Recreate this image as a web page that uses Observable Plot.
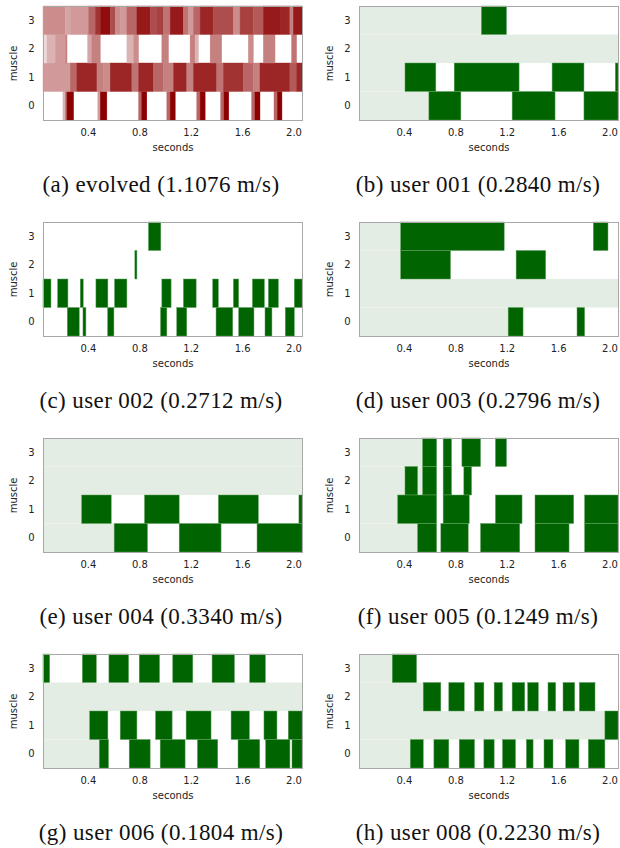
<!DOCTYPE html>
<html><head><meta charset="utf-8">
<script src="https://cdn.jsdelivr.net/npm/d3@7"></script>
<script src="https://cdn.jsdelivr.net/npm/@observablehq/plot@0.6"></script>
<style>
body{margin:0;background:#fff;}
#page{position:relative;width:620px;height:848px;overflow:hidden;background:#fff;}
.cell{position:absolute;width:310px;height:216px;}
.cell svg{position:absolute;left:0;top:0;}
.cap{position:absolute;width:310px;top:173px;text-align:center;font-family:"Liberation Serif",serif;font-size:23px;line-height:23px;letter-spacing:0.4px;color:#111;white-space:nowrap;}
</style></head><body><div id="page"></div>
<script>
// ---- axes ----
const xTicks = [0.4, 0.8, 1.2, 1.6, 2.0];
const muscles = [0, 1, 2, 3];
const tStart = 0.05, tEnd = 2.066;

// ---- (a) evolved: [start s, end s, activation 0..1] per muscle ----
const evolvedRow3 = [[0.050,0.224,0.45],[0.224,0.268,0.35],[0.268,0.405,0.40],[0.405,0.457,0.6],[0.457,0.496,0.8],[0.496,0.573,0.95],[0.573,0.612,0.7],[0.612,0.651,0.45],[0.651,0.703,0.4],[0.703,0.781,0.6],[0.781,0.884,0.9],[0.884,0.936,0.7],[0.936,0.988,0.75],[0.988,1.040,0.55],[1.040,1.143,0.9],[1.143,1.182,0.55],[1.182,1.221,0.4],[1.221,1.273,0.6],[1.273,1.376,0.85],[1.376,1.532,0.7],[1.532,1.584,0.45],[1.584,1.687,0.75],[1.687,1.765,0.65],[1.765,1.895,0.9],[1.895,1.972,0.85],[1.972,1.998,0.5],[1.998,2.066,0.9]];
const evolvedRow2 = [[0.050,0.081,0.15],[0.081,0.146,0.3],[0.146,0.224,0.4],[0.224,0.237,0.5],[0.397,0.430,0.35],[0.430,0.496,0.5],[0.703,0.755,0.3],[0.755,0.794,0.45],[0.975,1.027,0.5],[1.195,1.234,0.5],[1.234,1.260,0.3],[1.351,1.441,0.5],[1.648,1.687,0.45],[1.765,1.856,0.5],[1.985,2.024,0.55]];
const evolvedRow1 = [[0.050,0.262,0.4],[0.262,0.314,0.6],[0.314,0.470,0.85],[0.470,0.522,0.5],[0.522,0.573,0.45],[0.573,0.742,0.85],[0.742,0.794,0.55],[0.794,0.910,0.85],[0.910,0.988,0.6],[0.988,1.066,0.5],[1.066,1.169,0.85],[1.169,1.221,0.5],[1.221,1.402,0.85],[1.402,1.454,0.55],[1.454,1.610,0.8],[1.610,1.687,0.6],[1.687,1.739,0.5],[1.739,1.972,0.85],[1.972,2.024,0.65],[2.024,2.066,0.85]];
const evolvedRow0 = [[0.205,0.224,0.3],[0.224,0.237,0.6],[0.237,0.288,1.0],[0.477,0.496,0.4],[0.496,0.547,1.0],[0.794,0.819,0.6],[0.819,0.858,1.0],[1.014,1.040,0.6],[1.040,1.079,1.0],[1.247,1.273,0.6],[1.273,1.312,1.0],[1.433,1.459,0.6],[1.459,1.496,1.0],[1.674,1.700,0.6],[1.700,1.739,1.0],[1.848,1.874,0.6],[1.874,1.910,1.0]];

// ---- user panels: [muscle, start s, end s] ----
const bars001 = [[3,1.003,1.198],[1,0.408,0.648],[1,0.791,1.296],[1,1.553,1.801],[1,2.045,2.066],[0,0.594,0.843],[0,1.242,1.576],[0,1.801,2.066]];
const idle001 = [[3,0.05,1.003],[2,0.05,2.066],[1,0.05,0.408],[0,0.05,0.594]];

const bars002 = [[3,0.871,0.967],[2,0.765,0.781],[1,0.05,0.112],[1,0.164,0.244],[1,0.340,0.363],[1,0.462,0.555],[1,0.607,0.703],[1,0.975,1.047],[1,1.143,1.242],[1,1.371,1.415],[1,1.532,1.573],[1,1.680,1.773],[1,1.804,1.882],[1,2.006,2.066],[0,0.239,0.332],[0,0.361,0.384],[0,0.553,0.602],[0,0.965,1.014],[0,1.091,1.169],[0,1.397,1.527],[0,1.573,1.692],[0,1.778,1.832],[0,1.936,2.006]];
const idle002 = [];

const bars003 = [[3,0.374,1.180],[3,1.874,1.988],[2,0.374,0.762],[2,1.273,1.503],[0,1.211,1.327],[0,1.747,1.806]];
const idle003 = [[3,0.05,0.374],[2,0.05,0.374],[1,0.05,2.066],[0,0.05,1.211]];

const bars004 = [[1,0.351,0.581],[1,0.840,1.110],[1,1.415,1.726],[1,2.042,2.066],[0,0.604,0.863],[0,1.110,1.436],[0,1.716,2.066]];
const idle004 = [[3,0.05,2.066],[2,0.05,2.066],[1,0.05,0.351],[0,0.05,0.604]];

const bars005 = [[3,0.545,0.654],[3,0.705,0.770],[3,0.851,0.996],[3,1.112,1.198],[2,0.408,0.506],[2,0.545,0.654],[2,0.705,0.770],[2,0.866,0.926],[1,0.351,0.654],[1,0.705,0.908],[1,1.112,1.319],[1,1.420,1.721],[1,1.806,2.066],[0,0.506,0.654],[0,0.687,0.900],[0,0.996,1.301],[0,1.420,1.685],[0,1.806,2.066]];
const idle005 = [[3,0.05,0.545],[2,0.05,0.545],[1,0.05,0.351],[0,0.05,0.506]];

const bars006 = [[3,0.05,0.102],[3,0.356,0.465],[3,0.563,0.716],[3,0.799,0.957],[3,1.060,1.216],[3,1.366,1.540],[3,1.659,1.781],[1,0.413,0.555],[1,0.651,0.781],[1,0.926,1.055],[1,1.164,1.358],[1,1.514,1.656],[1,1.770,1.871],[1,1.959,2.066],[0,0.488,0.560],[0,0.721,0.884],[0,0.962,1.156],[0,1.252,1.410],[0,1.568,1.737],[0,1.783,1.972],[0,1.988,2.066]];
const idle006 = [[2,0.05,2.066],[1,0.05,0.413],[0,0.05,0.488]];

const bars008 = [[3,0.309,0.498],[2,0.550,0.687],[2,0.749,0.869],[2,0.949,1.022],[2,1.102,1.167],[2,1.242,1.340],[2,1.363,1.446],[2,1.521,1.581],[2,1.638,1.729],[2,1.765,1.887],[1,1.964,2.066],[0,0.449,0.550],[0,0.633,0.749],[0,0.830,0.949],[0,1.022,1.102],[0,1.167,1.268],[0,1.353,1.405],[0,1.490,1.560],[0,1.659,1.762],[0,1.835,1.964]];
const idle008 = [[3,0.05,0.309],[2,0.05,0.550],[1,0.05,1.964],[0,0.05,0.449]];

const captions = ["(a) evolved (1.1076 m/s)","(b) user 001 (0.2840 m/s)","(c) user 002 (0.2712 m/s)","(d) user 003 (0.2796 m/s)","(e) user 004 (0.3340 m/s)","(f) user 005 (0.1249 m/s)","(g) user 006 (0.1804 m/s)","(h) user 008 (0.2230 m/s)"];

// ---- styling ----
const darkGreen = "#006400", idleGreen = "#e3ede3", edgeGreen = "#5f9f5f";

function basePlot(col, marks, extra = {}) {
  return Plot.plot({
    width: 310, height: 154,
    marginLeft: col === 0 ? 43 : 49, marginRight: col === 0 ? 8 : 2,
    marginTop: 6, marginBottom: 34,
    style: {fontFamily: "'DejaVu Sans', sans-serif", fontSize: "10px", color: "#222", background: "transparent"},
    x: {domain: [tStart, tEnd], ticks: xTicks, tickFormat: ".1f", tickSize: 0, tickPadding: 8,
        label: "seconds", labelAnchor: "center", labelOffset: 30, labelArrow: "none"},
    y: {domain: [-0.5, 3.5], ticks: muscles, tickFormat: "d", tickSize: 0, tickPadding: 9,
        label: "muscle", labelAnchor: "center", labelOffset: 34, labelArrow: "none"},
    ...extra,
    marks: [...marks, Plot.frame({stroke: "#a8a8a8"})]
  });
}

function userPlot(col, bars, idle) {
  return basePlot(col, [
    Plot.rect(idle, {x1: d => d[1], x2: d => d[2], y1: d => d[0] - 0.5, y2: d => d[0] + 0.5, fill: idleGreen}),
    Plot.rect(bars, {x1: d => d[1], x2: d => d[2], y1: d => d[0] - 0.5, y2: d => d[0] + 0.5,
      fill: darkGreen, stroke: edgeGreen, strokeWidth: 0.5})
  ]);
}

const evolvedCells = [evolvedRow0, evolvedRow1, evolvedRow2, evolvedRow3]
  .flatMap((segs, row) => segs.map(([t0, t1, v]) => ({row, t0, t1, v})));

const panels = [
  basePlot(0, [
    Plot.rect(evolvedCells, {x1: "t0", x2: "t1", y1: d => d.row - 0.5, y2: d => d.row + 0.5, fill: "v", stroke: "v", strokeWidth: 0.4})
  ], {color: {type: "linear", domain: [0, 1], range: ["#ffffff", "#8b0000"]}}),
  userPlot(1, bars001, idle001),
  userPlot(0, bars002, idle002),
  userPlot(1, bars003, idle003),
  userPlot(0, bars004, idle004),
  userPlot(1, bars005, idle005),
  userPlot(0, bars006, idle006),
  userPlot(1, bars008, idle008)
];

const page = document.getElementById("page");
panels.forEach((svg, i) => {
  const col = i % 2, row = Math.floor(i / 2);
  const cell = document.createElement("div");
  cell.className = "cell";
  cell.style.left = (col * 310) + "px";
  cell.style.top = (row * 216) + "px";
  cell.appendChild(svg);
  const cap = document.createElement("div");
  cap.className = "cap";
  cap.style.left = (col === 0 ? 6 : 13) + "px";
  cap.textContent = captions[i];
  cell.appendChild(cap);
  page.appendChild(cell);
});
</script>
</body></html>
